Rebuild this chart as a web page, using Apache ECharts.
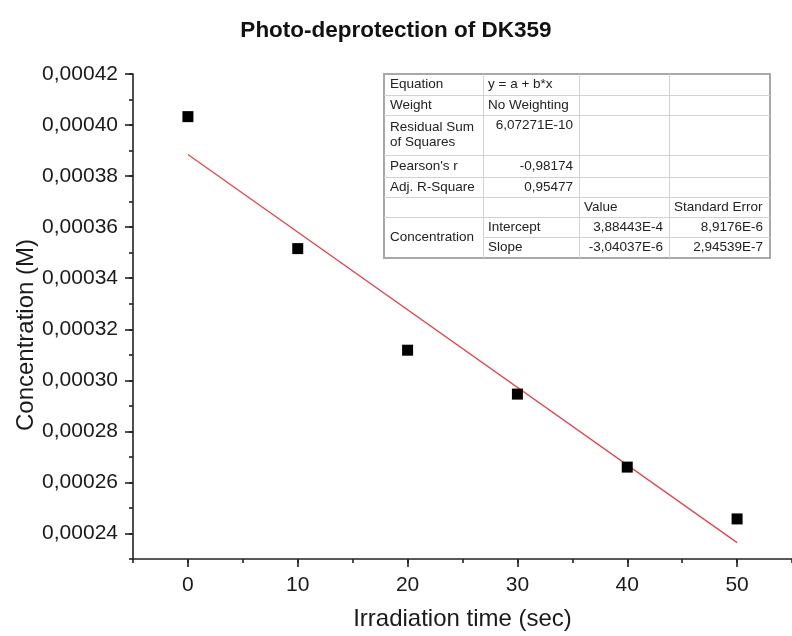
<!DOCTYPE html>
<html>
<head>
<meta charset="utf-8">
<script src="https://cdn.jsdelivr.net/npm/echarts@6/dist/echarts.min.js"></script>
<style>
html,body{margin:0;padding:0;background:#fff;}
#chart{width:792px;height:636px;}
</style>
</head>
<body>
<div id="chart"></div>
<script>
// ---- data ----
const xValues = [0, 10, 20, 30, 40, 50];
const concentration = [4.033e-4, 3.516e-4, 3.118e-4, 2.946e-4, 2.660e-4, 2.457e-4];
const fitX = [0, 50];
const fitY = [3.88443e-4, 2.36425e-4];
const xTickLabels = [0, 10, 20, 30, 40, 50];
const yTickLabels = [0.00024, 0.00026, 0.00028, 0.00030, 0.00032, 0.00034, 0.00036, 0.00038, 0.00040, 0.00042];

const statLabels = ['Equation', 'Weight', 'Residual Sum\nof Squares', "Pearson's r", 'Adj. R-Square'];
const statValues = ['y = a + b*x', 'No Weighting', '6,07271E-10', '-0,98174', '0,95477'];
const paramHeader = ['Value', 'Standard Error'];
const paramGroup = 'Concentration';
const paramNames = ['Intercept', 'Slope'];
const paramValues = ['3,88443E-4', '-3,04037E-6'];
const paramErrors = ['8,9176E-6', '2,94539E-7'];

const FONT = '"Liberation Sans", Arial, sans-serif';
const TXT = '#1a1a1a';

// ---- table graphic ----
const colX = [384, 483, 579, 669, 770];
const rowY = [74, 95, 115, 155, 177, 197, 217, 237, 258];
const tfs = 13.5;
const g = [];
function line(x1, y1, x2, y2) {
  g.push({type: 'line', shape: {x1, y1, x2, y2}, style: {stroke: '#d2d2d2', lineWidth: 1}, z: 100});
}
function txt(text, x, y, align, vAlign) {
  g.push({type: 'text', z: 102, style: {text, x, y, fill: '#222', fontSize: tfs, fontFamily: FONT,
    align: align || 'left', verticalAlign: vAlign || 'middle', lineHeight: 15}});
}
g.push({type: 'rect', shape: {x: colX[0], y: rowY[0], width: colX[4] - colX[0], height: rowY[8] - rowY[0]},
  style: {fill: '#fff', stroke: '#a8a8a8', lineWidth: 2}, z: 99});
for (let i = 1; i < rowY.length - 1; i++) {
  if (i === 7) line(colX[1], rowY[i] + 0.5, colX[4], rowY[i] + 0.5);
  else line(colX[0], rowY[i] + 0.5, colX[4], rowY[i] + 0.5);
}
for (let j = 1; j < colX.length - 1; j++) line(colX[j] + 0.5, rowY[0], colX[j] + 0.5, rowY[8]);
statLabels.forEach((s, i) => {
  const cy = i === 2 ? rowY[i] + 20 : (rowY[i] + rowY[i + 1]) / 2;
  txt(s, colX[0] + 6, cy, 'left', 'middle');
});
statValues.forEach((s, i) => {
  const cy = i === 2 ? rowY[i] + 10 : (rowY[i] + rowY[i + 1]) / 2;
  if (i < 2) txt(s, colX[1] + 5, cy, 'left', 'middle');
  else txt(s, colX[2] - 6, cy, 'right', 'middle');
});
txt(paramHeader[0], colX[2] + 5, (rowY[5] + rowY[6]) / 2);
txt(paramHeader[1], colX[3] + 5, (rowY[5] + rowY[6]) / 2);
txt(paramGroup, colX[0] + 6, rowY[7], 'left', 'middle');
paramNames.forEach((s, i) => {
  const cy = (rowY[6 + i] + rowY[7 + i]) / 2;
  txt(s, colX[1] + 5, cy);
  txt(paramValues[i], colX[3] - 6, cy, 'right');
  txt(paramErrors[i], colX[4] - 7, cy, 'right');
});
// y-axis title
g.push({type: 'text', z: 50, x: 26, y: 335, rotation: Math.PI / 2,
  style: {text: 'Concentration (M)', fill: TXT, fontSize: 24, fontFamily: FONT, align: 'center', verticalAlign: 'middle'}});

const chart = echarts.init(document.getElementById('chart'), null, {renderer: 'canvas'});
const axisCommon = {
  axisLine: {show: true, onZero: false, lineStyle: {color: '#222', width: 1.6}},
  splitLine: {show: false}
};
chart.setOption({
  animation: false,
  backgroundColor: '#fff',
  title: {
    text: 'Photo-deprotection of DK359', left: 'center', top: 14,
    textStyle: {fontFamily: FONT, fontSize: 22.5, fontWeight: 'bold', color: '#111'}
  },
  grid: {left: 133, top: 74, width: 663, height: 487, containLabel: false},
  xAxis: [
    Object.assign({}, axisCommon, {
      type: 'value', min: -5, max: 55, interval: 5, position: 'bottom',
      name: 'Irradiation time (sec)', nameLocation: 'middle', nameGap: 48,
      nameTextStyle: {fontFamily: FONT, fontSize: 24, color: TXT},
      axisTick: {show: true, inside: false, length: 8, lineStyle: {color: '#222', width: 1.6}, customValues: xTickLabels},
      axisLabel: {show: true, margin: 16, fontFamily: FONT, fontSize: 21, color: TXT, customValues: xTickLabels,
        formatter: v => String(v)}
    }),
    {
      type: 'value', min: -5, max: 55, interval: 5, position: 'bottom', gridIndex: 0,
      axisLine: {show: false, onZero: false}, splitLine: {show: false}, axisLabel: {show: false},
      axisTick: {show: true, inside: false, length: 4, lineStyle: {color: '#222', width: 1.6}}
    }
  ],
  yAxis: [
    Object.assign({}, axisCommon, {
      type: 'value', min: 0.00023, max: 0.00042, interval: 0.00001, position: 'left',
      axisTick: {show: true, inside: false, length: 8, lineStyle: {color: '#222', width: 1.6}, customValues: yTickLabels},
      axisLabel: {show: true, margin: 15, fontFamily: FONT, fontSize: 21, color: TXT, customValues: yTickLabels,
        formatter: v => v.toFixed(5).replace('.', ',')}
    }),
    {
      type: 'value', min: 0.00023, max: 0.00042, interval: 0.00001, position: 'left', gridIndex: 0,
      axisLine: {show: false, onZero: false}, splitLine: {show: false}, axisLabel: {show: false},
      axisTick: {show: true, inside: false, length: 4, lineStyle: {color: '#222', width: 1.6}}
    }
  ],
  series: [
    {
      type: 'line', xAxisIndex: 0, yAxisIndex: 0, showSymbol: false, symbol: 'none',
      data: fitX.map((x, i) => [x, fitY[i]]),
      lineStyle: {color: '#e2464f', width: 1.3}, z: 2
    },
    {
      type: 'scatter', xAxisIndex: 0, yAxisIndex: 0, symbol: 'rect', symbolSize: 11,
      data: xValues.map((x, i) => [x, concentration[i]]),
      itemStyle: {color: '#000', opacity: 1}, z: 3
    }
  ],
  graphic: g
});
</script>
</body>
</html>
